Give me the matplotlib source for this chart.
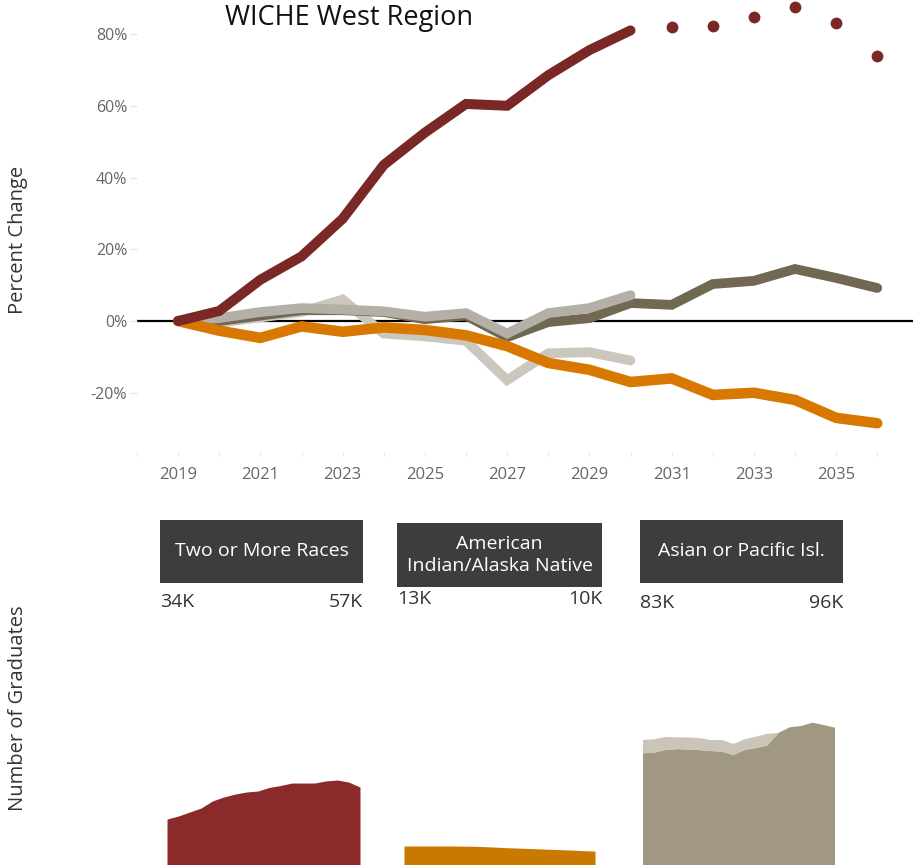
import matplotlib
matplotlib.use("Agg")
import matplotlib.pyplot as plt
from matplotlib.patches import Rectangle

plt.rcParams['font.family'] = ['Open Sans', 'DejaVu Sans']

W, H = 913, 865

years = list(range(2019, 2037))
years_solid = list(range(2019, 2031))
years_proj = list(range(2031, 2037))

# percent change since 2019
two_more = [0, 2.8, 11.5, 18, 28.5, 43.5, 52.5, 60.5, 60, 68.5, 75.5, 81]
two_more_proj = [82, 82.3, 84.7, 87.5, 83, 74]
asian_pi = [0, 0, 1.5, 3, 3, 2.5, 0.5, 1.5, -4.5, -0.3, 0.8, 5,
            4.5, 10.3, 11.2, 14.5, 12, 9.2]
asian = [0, 0.8, 2.5, 3.6, 3.2, 2.7, 1.2, 2.2, -3.5, 2.2, 3.6, 7.2]
pacific = [0, -0.5, 1, 2.5, 6, -3.5, -4.3, -5.5, -16.5, -9, -8.7, -11]
am_indian = [0, -2.7, -4.7, -1.5, -3, -1.8, -2.5, -4, -7, -11.7, -13.6, -17,
             -16, -20.6, -20, -22, -27, -28.5]

pct_ticks = [-20, 0, 20, 40, 60, 80]
pct_labels = ['-20%', '0%', '20%', '40%', '60%', '80%']
year_ticks = list(range(2019, 2036, 2))

# number of graduates (thousands)
two_more_k = [33.3, 35.5, 38.4, 41.3, 46.4, 49.3, 51.4, 52.9, 53.6, 56.2, 57.6,
              59.4, 59.4, 59.4, 60.9, 61.6, 60.1, 56.5]
am_indian_k = [13.8, 13.8, 13.8, 13.8, 13.8, 13.7, 13.6, 13.4, 13.0, 12.6, 12.3,
               12.0, 11.7, 11.4, 11.1, 10.8, 10.4, 10.1]
asian_k = [80.9, 81.5, 83.3, 84, 83.7, 83.3, 82.6, 82.1, 79.7, 83.3, 84.8,
           86.5, 95.7, 99.8, 100.7, 103.1, 101.4, 99.5]
pacific_k = [9.7, 9.6, 9.5, 8.5, 8.7, 8.7, 8, 8.5, 8, 7.8, 8.2, 8.5,
             0, 0, 0, 0, 0, 0]

panel_titles = ['Two or More Races', 'American\nIndian/Alaska Native', 'Asian or Pacific Isl.']
panel_start = ['34K', '13K', '83K']
panel_end = ['57K', '10K', '96K']

RED = '#7A2826'
ORANGE = '#D97800'
DARK = '#706852'
MID = '#B5B0A7'
LIGHT = '#CCC7BE'


def fx(px):
    return px / W


def fy(py):
    return 1 - py / H


fig = plt.figure(figsize=(W / 100, H / 100), dpi=100)

# ---- line chart
ax = fig.add_axes([fx(137), fy(452), 1 - fx(137), fy(0) - fy(452)])
ax.set_xlim(2018, 2018 + (W - 137) / 41.125)
ax.set_ylim(-(452 - 321) / 3.5875, 321 / 3.5875)
for s in ax.spines.values():
    s.set_visible(False)

ax.axhline(0, color='black', lw=1.6, zorder=1)
style = dict(solid_capstyle='round', solid_joinstyle='miter')
ax.plot(years_solid, pacific, color=LIGHT, lw=7, zorder=2, **style)
ax.plot(years, asian_pi, color=DARK, lw=7, zorder=3, **style)
ax.plot(years_solid, asian, color=MID, lw=7, zorder=4, **style)
ax.plot(years, am_indian, color=ORANGE, lw=7.6, zorder=5, **style)
ax.plot(years_solid, two_more, color=RED, lw=7.2, zorder=6, **style)
ax.plot(years_proj, two_more_proj, 'o', color=RED, ms=8.5, mec='none', zorder=6)

ax.set_yticks(pct_ticks)
ax.set_yticklabels(pct_labels)
ax.set_xticks(year_ticks)
ax.set_xticklabels([str(y) for y in year_ticks])
ax.set_xticks(range(2018, 2037), minor=True)
ax.tick_params(axis='y', length=5, width=0.8, color='#E4E4E4', labelcolor='#666666',
               labelsize=11.5, pad=2)
ax.tick_params(axis='x', which='both', length=3, width=0.8, color='#E4E4E4',
               labelcolor='#666666', labelsize=12, pad=8)

fig.text(fx(349), fy(18), 'WICHE West Region', fontsize=19.5, color='#111111',
         ha='center', va='center')
fig.text(fx(18), fy(240), 'Percent Change', fontsize=14.5, color='#333333',
         rotation=90, ha='center', va='center')
fig.text(fx(18), fy(708), 'Number of Graduates', fontsize=14.5, color='#333333',
         rotation=90, ha='center', va='center')

# ---- header boxes and labels
boxes = [(160, 520, 363, 583), (397, 523, 602, 587), (640, 520, 843, 583)]
num_y = [602, 599, 603]
for (x0, y0, x1, y1), title, a, b, ny in zip(boxes, panel_titles, panel_start, panel_end, num_y):
    fig.add_artist(Rectangle((fx(x0), fy(y1)), fx(x1) - fx(x0), fy(y0) - fy(y1),
                             transform=fig.transFigure, color='#3D3D3D', lw=0))
    fig.text(fx((x0 + x1) / 2), fy((y0 + y1) / 2), title, color='white', fontsize=14,
             ha='center', va='center', linespacing=1.25)
    fig.text(fx(x0), fy(ny), a, color='#333333', fontsize=14, ha='left', va='center')
    fig.text(fx(x1), fy(ny), b, color='#333333', fontsize=14, ha='right', va='center')

# ---- area panels
panels = [(167, 360), (404, 595), (643, 835)]
ymax = (865 - 610) / 1.38
area_axes = []
for x0, x1 in panels:
    a = fig.add_axes([fx(x0), 0, fx(x1) - fx(x0), fy(610)])
    a.set_xlim(2019, 2036)
    a.set_ylim(0, ymax)
    a.axis('off')
    area_axes.append(a)

area_axes[0].fill_between(years, 0, two_more_k, color='#8B2A2A', lw=0)
area_axes[1].fill_between(years, 0, am_indian_k, color='#C97800', lw=0)
area_axes[2].stackplot(years, asian_k, pacific_k, colors=['#A09880', '#CAC4B9'], lw=0)

fig.savefig('out.png', dpi=100)
